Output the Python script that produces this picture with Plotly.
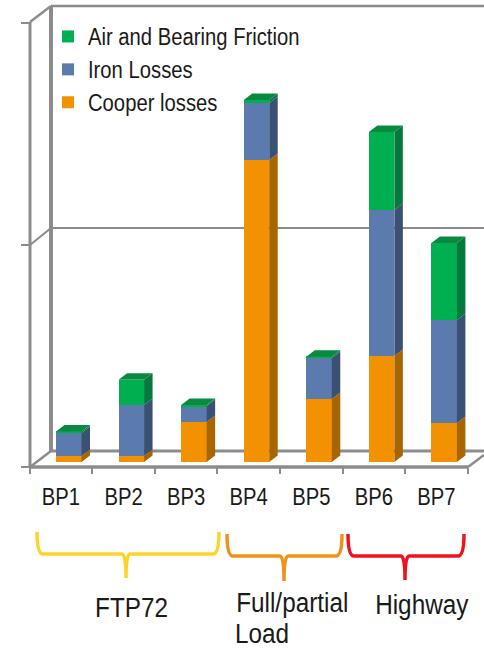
import plotly.graph_objects as go

categories = ["BP1", "BP2", "BP3", "BP4", "BP5", "BP6", "BP7"]
cooper = [2.7, 2.7, 18.0, 136.0, 28.4, 47.7, 17.6]
iron = [10.4, 23.0, 7.2, 25.7, 18.5, 65.8, 46.4]
friction = [0.6, 11.3, 0.5, 1.4, 0.5, 35.1, 34.7]
axis_ticks = [-2.25, 97.75, 197.75]

W, H = 484, 650
PLOT_B = 467          # pixel row of plot bottom
UX = 62.57            # px per category
UY = 2.22             # px per value unit
X0 = 61               # px of first category
FONT = "Liberation Sans, Arial"
GRAY = "#8c8c8c"

bar_w = 25.5 / UX
bar_off = -5 / UX
depth_x = 8.5 / UX
depth_y = 6.5 / UY

def px(x):
    return x / W

def py(y):
    return (PLOT_B - y) / PLOT_B

fig = go.Figure()
series = [
    ("Cooper losses", cooper, "#F39200", "#A86500"),
    ("Iron Losses", iron, "#5B7BAF", "#3B5173"),
    ("Air and Bearing Friction", friction, "#00B050", "#067A3C"),
]
x_idx = list(range(len(categories)))
bottoms = [0.0] * len(categories)
sides = []
for name, vals, col, dark in series:
    fig.add_trace(go.Bar(name=name, x=x_idx, y=vals, width=bar_w, offset=bar_off,
                         marker=dict(color=col, line=dict(width=0))))
    xs, ys = [], []
    for i, v in enumerate(vals):
        r = i + bar_off + bar_w
        b, t = bottoms[i], bottoms[i] + v
        xs += [r, r + depth_x, r + depth_x, r, r, None]
        ys += [b, b + depth_y, t + depth_y, t, b, None]
        bottoms[i] = t
    sides.append((xs, ys, dark, name))

for xs, ys, dark, name in sides:
    fig.add_trace(go.Scatter(x=xs, y=ys, mode="lines", fill="toself", fillcolor=dark,
                             line=dict(width=0, color=dark), showlegend=False, hoverinfo="skip"))
tx, ty = [], []
for i, t in enumerate(bottoms):
    l = i + bar_off
    r = l + bar_w
    tx += [l, l + depth_x, r + depth_x, r, l, None]
    ty += [t, t + depth_y, t + depth_y, t, t, None]
fig.add_trace(go.Scatter(x=tx, y=ty, mode="lines", fill="toself", fillcolor="#0A8A40",
                         line=dict(width=0, color="#0A8A40"), showlegend=False, hoverinfo="skip"))

shapes = []
def line(x0, y0, x1, y1, w=3, color=GRAY, layer="below"):
    shapes.append(dict(type="line", xref="paper", yref="paper", x0=px(x0), y0=py(y0), x1=px(x1), y1=py(y1),
                       line=dict(color=color, width=w), layer=layer))

line(51, 6, 51, 451, 4)            # back wall edge
line(51, 6, 484, 6, 2.5)           # top
line(51, 228, 484, 228, 2)         # grid
line(51, 451, 484, 451, 3)         # back floor
line(30, 22, 30, 467, 3)           # front axis
line(30, 22, 51, 6, 2.5)
line(30, 245, 51, 228, 2)
line(30, 467, 51, 451, 2.5)
line(30, 467, 468, 467, 3.5)       # front floor
line(468, 467, 484, 455, 2.5)

def bracket(x0, x1, xm, top, mid, bot, color):
    p = (f"M {px(x0)} {py(top)} Q {px(x0)} {py(mid)} {px(x0+6)} {py(mid)} "
         f"L {px(xm-4)} {py(mid)} Q {px(xm)} {py(mid)} {px(xm)} {py(bot)} "
         f"Q {px(xm)} {py(mid)} {px(xm+4)} {py(mid)} "
         f"L {px(x1-6)} {py(mid)} Q {px(x1)} {py(mid)} {px(x1)} {py(top)}")
    shapes.append(dict(type="path", xref="paper", yref="paper", path=p,
                       line=dict(color=color, width=3.5)))

bracket(37, 219, 126, 532, 554, 578, "#FFD428")
bracket(227, 342, 284, 534, 556, 581, "#F0921A")
bracket(348, 464, 405, 534, 556, 580, "#F2101E")

def note(text, x, y):
    return dict(text=text, xref="paper", yref="paper", x=px(x), y=py(y), xanchor="center", yanchor="middle",
                showarrow=False, font=dict(size=27, color="#1a1a1a", family=FONT))

annotations = [
    note("FTP72", 131, 608),
    note("Full/partial", 292, 603),
    note("Load", 262, 634),
    note("Highway", 422, 605),
]

for v in axis_ticks:
    y = 462 - v * UY
    line(21, y, 30, y, 2)

fig.update_layout(
    width=W, height=H, margin=dict(l=0, r=0, t=0, b=H - PLOT_B, pad=0),
    autosize=False, barmode="stack", paper_bgcolor="white", plot_bgcolor="white",
    shapes=shapes, annotations=annotations,
    legend=dict(x=px(48), y=py(15), xanchor="left", yanchor="top", traceorder="reversed",
                bgcolor="rgba(0,0,0,0)", font=dict(size=23, family=FONT, color="#1a1a1a"),
                itemwidth=30),
    xaxis=dict(range=[-X0 / UX, (W - X0) / UX], tickmode="array", tickvals=x_idx, ticktext=categories,
               ticks="", showgrid=False, zeroline=False, showline=False, ticklabelstandoff=14,
               tickfont=dict(size=23, family=FONT, color="#1a1a1a"),
               minor=dict(tickvals=[i - 0.5 for i in range(len(categories) + 1)], ticks="outside",
                          ticklen=6, tickwidth=2, tickcolor=GRAY, showgrid=False)),
    yaxis=dict(range=[-5 / UY, 462 / UY], tickmode="array", tickvals=axis_ticks, showticklabels=False,
               ticks="", showgrid=False, zeroline=False, showline=False),
)

# The reference's lettering is horizontally condensed; no narrow face is installed.
post = """
document.body.style.margin='0';document.body.style.overflow='hidden';
var gd=document.getElementById('{plot_id}');
function squeeze(){
  [['.legendtext',0.88],['.xtick text',0.88],['.annotation-text',0.9]].forEach(function(p){
    gd.querySelectorAll(p[0]).forEach(function(t){
      if(t.getAttribute('textLength'))return;
      t.setAttribute('textLength',t.getComputedTextLength()*p[1]);
      t.setAttribute('lengthAdjust','spacingAndGlyphs');
    });
  });
}
squeeze();gd.on('plotly_afterplot',squeeze);
"""
fig.write_html("out.html", config={"displayModeBar": False}, post_script=post)
